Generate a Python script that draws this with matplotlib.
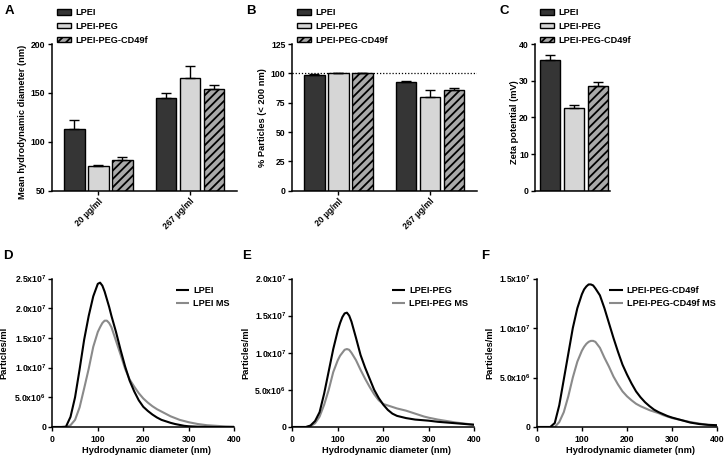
import matplotlib
matplotlib.use('Agg')
import matplotlib.pyplot as plt
import numpy as np

plt.rcParams.update({
    'font.family': ['Liberation Sans', 'DejaVu Sans'],
    'font.weight': 'bold',
    'axes.labelweight': 'bold',
    'mathtext.fontset': 'custom',
    'mathtext.rm': 'Liberation Sans:bold',
    'mathtext.it': 'Liberation Sans:bold',
    'mathtext.bf': 'Liberation Sans:bold',
    'mathtext.default': 'rm',
    'hatch.linewidth': 1.3,
    'axes.linewidth': 1.1,
})

# ---------------- data ----------------
groups = ['20 µg/ml', '267 µg/ml']
formulations = ['LPEI', 'LPEI-PEG', 'LPEI-PEG-CD49f']

# A: mean hydrodynamic diameter (nm)
size_lpei = [113.3, 144.9]
size_peg = [74.8, 165.0]
size_cd49f = [81.6, 154.1]
size_lpei_err = [9.5, 4.8]
size_peg_err = [1.7, 12.2]
size_cd49f_err = [2.4, 4.0]
size_yticks = [50, 100, 150, 200]

# B: % particles < 200 nm
pct_lpei = [98.9, 92.4]
pct_peg = [99.9, 80.1]
pct_cd49f = [99.9, 86.2]
pct_lpei_err = [0.6, 1.4]
pct_peg_err = [0.1, 6.0]
pct_cd49f_err = [0.1, 1.4]
pct_yticks = [0, 25, 50, 75, 100, 125]

# C: zeta potential (mV)
zeta_mean = [35.7, 22.6, 28.5]
zeta_err = [1.3, 0.7, 1.2]
zeta_yticks = [0, 10, 20, 30, 40]

# D-F: size distributions (particles/ml, in units of 1e7)
diam_nm = [0, 10, 20, 30, 40, 50, 60, 70, 80, 90, 100, 105, 110, 115, 120, 125, 130,
           140, 150, 160, 170, 180, 190, 200, 210, 220, 230, 240, 250, 260, 270, 280,
           290, 300, 320, 340, 360, 380, 400]
conc_unit = 1e7
d_lpei = [0, 0, 0, 0.005, 0.17, 0.5, 0.97, 1.47, 1.87, 2.2, 2.41, 2.43, 2.38, 2.28, 2.15,
          2.02, 1.87, 1.6, 1.3, 1.02, 0.78, 0.6, 0.45, 0.34, 0.27, 0.21, 0.16, 0.12, 0.095,
          0.07, 0.05, 0.035, 0.02, 0.012, 0.005, 0.002, 0, 0, 0]
d_lpei_ms = [0, 0, 0, 0, 0.03, 0.12, 0.33, 0.65, 0.98, 1.35, 1.6, 1.68, 1.75, 1.79, 1.79,
             1.75, 1.68, 1.45, 1.22, 0.98, 0.8, 0.68, 0.57, 0.48, 0.41, 0.35, 0.3, 0.26,
             0.22, 0.18, 0.15, 0.12, 0.1, 0.08, 0.05, 0.03, 0.02, 0.01, 0.005]
e_peg = [0, 0, 0, 0, 0.02, 0.08, 0.2, 0.45, 0.75, 1.05, 1.3, 1.4, 1.48, 1.53, 1.54, 1.5,
         1.42, 1.2, 0.97, 0.8, 0.65, 0.5, 0.39, 0.3, 0.23, 0.18, 0.15, 0.135, 0.12, 0.11,
         0.1, 0.095, 0.09, 0.085, 0.07, 0.06, 0.05, 0.04, 0.03]
e_peg_ms = [0, 0, 0, 0, 0.01, 0.05, 0.14, 0.3, 0.5, 0.74, 0.9, 0.96, 1.0, 1.04, 1.05,
            1.04, 1.0, 0.9, 0.77, 0.65, 0.54, 0.44, 0.36, 0.31, 0.29, 0.27, 0.25, 0.235,
            0.22, 0.2, 0.18, 0.16, 0.14, 0.125, 0.1, 0.08, 0.06, 0.045, 0.03]
f_cd49f = [0, 0, 0, 0, 0.04, 0.22, 0.48, 0.74, 1.0, 1.2, 1.34, 1.39, 1.42, 1.44, 1.44,
           1.43, 1.4, 1.33, 1.2, 1.05, 0.9, 0.76, 0.63, 0.53, 0.44, 0.36, 0.3, 0.25, 0.21,
           0.175, 0.15, 0.13, 0.11, 0.095, 0.07, 0.045, 0.03, 0.022, 0.018]
f_cd49f_ms = [0, 0, 0, 0, 0, 0.05, 0.15, 0.31, 0.5, 0.66, 0.77, 0.81, 0.84, 0.86, 0.87,
              0.87, 0.86, 0.8, 0.7, 0.61, 0.51, 0.43, 0.36, 0.31, 0.27, 0.235, 0.21, 0.19,
              0.17, 0.155, 0.14, 0.12, 0.105, 0.09, 0.07, 0.05, 0.035, 0.02, 0.01]
diam_xticks = [0, 100, 200, 300, 400]
d_yticks = [0, 0.5e7, 1.0e7, 1.5e7, 2.0e7, 2.5e7]
d_ylabels = ['0', '5.0x10$^{6}$', '1.0x10$^{7}$', '1.5x10$^{7}$', '2.0x10$^{7}$', '2.5x10$^{7}$']
e_yticks = [0, 0.5e7, 1.0e7, 1.5e7, 2.0e7]
e_ylabels = ['0', '5.0x10$^{6}$', '1.0x10$^{7}$', '1.5x10$^{7}$', '2.0x10$^{7}$']
f_yticks = [0, 0.5e7, 1.0e7, 1.5e7]
f_ylabels = ['0', '5.0x10$^{6}$', '1.0x10$^{7}$', '1.5x10$^{7}$']

# ---------------- styles ----------------
bar_colors = ['#353535', '#d6d6d6', '#a9a9a9']
bar_hatches = [None, None, '////']
TICK_FS = 6.2
LABEL_FS = 6.7
LEG_FS = 6.6

W, H = 726, 457
fig = plt.figure(figsize=(W / 100, H / 100), dpi=100)


def rect(l, r, t, b):
    return [l / W, 1 - b / H, (r - l) / W, (b - t) / H]


def style_axes(ax):
    for s in ['top', 'right']:
        ax.spines[s].set_visible(False)
    ax.tick_params(direction='out', length=3, width=1.0, labelsize=TICK_FS, pad=1.5)
    for lab in ax.get_xticklabels() + ax.get_yticklabels():
        lab.set_fontweight('bold')


def grouped_bars(ax, means, errs):
    x = np.arange(len(groups))
    offs = [-0.262, 0.0, 0.262]
    handles = []
    for i in range(3):
        h = ax.bar(x + offs[i], means[i], width=0.224, color=bar_colors[i],
                   edgecolor='black', linewidth=1.0, hatch=bar_hatches[i],
                   label=formulations[i], zorder=2)
        handles.append(h)
        ax.errorbar(x + offs[i], means[i], yerr=[np.zeros(len(errs[i])), errs[i]],
                    fmt='none', ecolor='black', elinewidth=1.0, capsize=3.6,
                    capthick=1.0, zorder=3)
    ax.set_xlim(-0.508, 1.509)
    ax.set_xticks(x)
    ax.set_xticklabels(groups, rotation=45, ha='right', rotation_mode='anchor',
                       fontsize=6.6, fontweight='bold')
    return handles


def bar_legend(ax, handles, xfrac, yfrac):
    ax.legend(handles=handles, labels=formulations, loc='upper left',
              bbox_to_anchor=(xfrac, yfrac), frameon=False,
              borderpad=0, borderaxespad=0, handlelength=1.55, handleheight=0.55,
              handletextpad=0.5, labelspacing=0.52, prop={'weight': 'bold', 'size': LEG_FS})


# Panel A
axA = fig.add_axes(rect(51.7, 236.7, 44, 190.7))
hA = grouped_bars(axA, [size_lpei, size_peg, size_cd49f],
                  [size_lpei_err, size_peg_err, size_cd49f_err])
axA.set_ylim(50, 200)
axA.set_yticks(size_yticks)
axA.set_ylabel('Mean hydrodynamic diameter (nm)', fontsize=LABEL_FS, fontweight='bold')
axA.yaxis.set_label_coords(-0.132, 0.47)
style_axes(axA)
bar_legend(axA, hA, 0.029, 1.245)

# Panel B
axB = fig.add_axes(rect(291.7, 476.7, 44, 190.7))
axB.axhline(100, color='black', linestyle=(0, (1, 1.5)), linewidth=0.9, zorder=1)
hB = grouped_bars(axB, [pct_lpei, pct_peg, pct_cd49f],
                  [pct_lpei_err, pct_peg_err, pct_cd49f_err])
axB.set_ylim(0, 125)
axB.set_yticks(pct_yticks)
axB.set_ylabel('% Particles (< 200 nm)', fontsize=LABEL_FS, fontweight='bold')
axB.yaxis.set_label_coords(-0.132, 0.5)
style_axes(axB)
bar_legend(axB, hB, (296.7 - 291.7) / 185, 1.245)

# Panel C
axC = fig.add_axes(rect(535, 610, 44, 190.7))
xc = np.arange(3)
hC = []
for i in range(3):
    h = axC.bar(xc[i], zeta_mean[i], width=0.84, color=bar_colors[i], edgecolor='black',
                linewidth=1.0, hatch=bar_hatches[i], label=formulations[i], zorder=2)
    hC.append(h)
axC.errorbar(xc, zeta_mean, yerr=[np.zeros(3), zeta_err], fmt='none', ecolor='black',
             elinewidth=1.0, capsize=3.6, capthick=1.0, zorder=3)
axC.set_xlim(-0.64, 2.49)
axC.set_ylim(0, 40)
axC.set_yticks(zeta_yticks)
axC.set_xticks([])
axC.set_ylabel('Zeta potential (mV)', fontsize=LABEL_FS, fontweight='bold')
axC.yaxis.set_label_coords(-0.209, 0.47)
style_axes(axC)
bar_legend(axC, hC, (540 - 535) / 75, 1.245)


# Distribution panels
def dist_panel(r, black, gray, names, ymax, yt, ylabs, leg_x, ylab_x):
    ax = fig.add_axes(rect(*r))
    x = np.array(diam_nm)
    g, = ax.plot(x, np.array(gray) * conc_unit, color='#8a8a8a', lw=1.5, label=names[1],
                 solid_capstyle='butt')
    k, = ax.plot(x, np.array(black) * conc_unit, color='black', lw=1.5, label=names[0],
                 solid_capstyle='butt')
    ax.set_xlim(0, 400)
    ax.set_ylim(0, ymax)
    ax.set_xticks(diam_xticks)
    ax.set_yticks(yt)
    ax.set_yticklabels(ylabs)
    ax.set_xlabel('Hydrodynamic diameter (nm)', fontsize=LABEL_FS, fontweight='bold')
    ax.set_ylabel('Particles/ml', fontsize=LABEL_FS, fontweight='bold')
    ax.xaxis.set_label_coords(0.52, -0.131)
    ax.yaxis.set_label_coords(ylab_x, 0.5)
    style_axes(ax)
    ax.tick_params(axis='x', pad=2.5)
    ax.legend(handles=[k, g], loc='upper left', bbox_to_anchor=(leg_x, 0.948),
              frameon=False, borderpad=0, borderaxespad=0, handlelength=1.45,
              handletextpad=0.45, labelspacing=0.45, prop={'weight': 'bold', 'size': LEG_FS})
    return ax


dist_panel((52.3, 234.3, 278.5, 427), d_lpei, d_lpei_ms, ['LPEI', 'LPEI MS'],
           2.5e7, d_yticks, d_ylabels, 0.678, -0.243)
dist_panel((292.3, 474.3, 278.5, 427), e_peg, e_peg_ms, ['LPEI-PEG', 'LPEI-PEG MS'],
           2.0e7, e_yticks, e_ylabels, 0.546, -0.232)
dist_panel((536.7, 717.3, 278.5, 427), f_cd49f, f_cd49f_ms,
           ['LPEI-PEG-CD49f', 'LPEI-PEG-CD49f MS'], 1.5e7, f_yticks, f_ylabels, 0.402, -0.236)

# Panel letters
for letter, px, py in [('A', 5, 5), ('B', 246, 5), ('C', 500, 5),
                       ('D', 3, 250), ('E', 242, 250), ('F', 481, 250)]:
    fig.text(px / W, 1 - py / H, letter, fontsize=9.5, fontweight='bold', ha='left', va='top')

fig.savefig('out.png', dpi=100)
